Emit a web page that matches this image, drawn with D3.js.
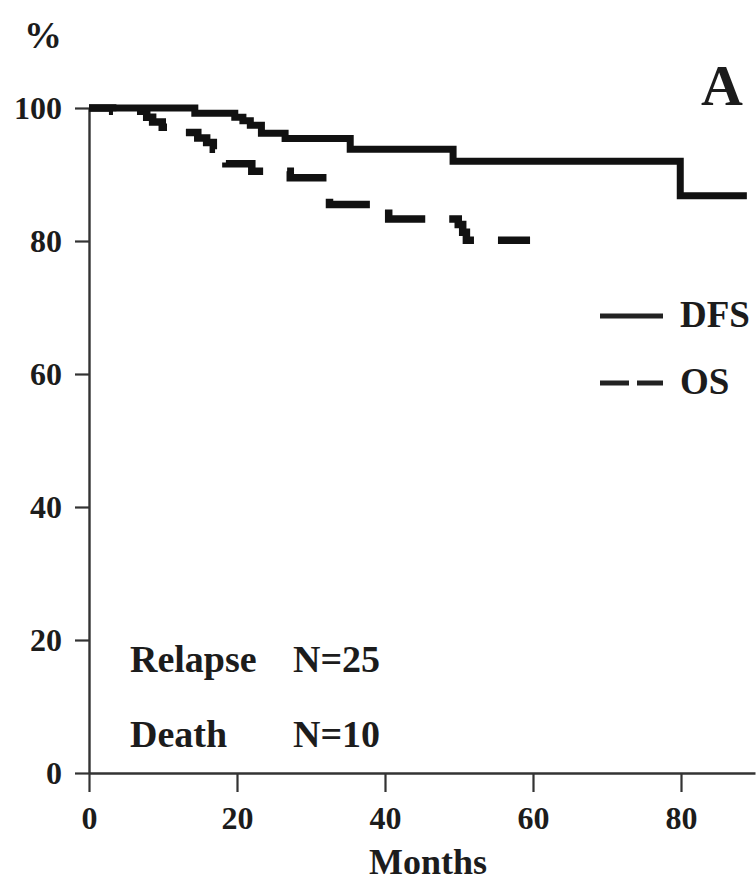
<!DOCTYPE html>
<html>
<head>
<meta charset="utf-8">
<script src="https://cdn.jsdelivr.net/npm/d3@7"></script>
<style>
    body { margin: 0; background: #fff; }
    svg text { font-family: "Liberation Serif", "Times New Roman", serif; font-weight: bold; fill: #1c1c1c; }
</style>
</head>
<body>
<svg id="chart" width="756" height="883"></svg>
<script>
// Kaplan-Meier steps (months, % surviving)
const dfsMonths = [0, 14.3, 19.7, 20.8, 21.8, 23.3, 26.5, 35.3, 49.2, 79.9, 88.9];
const dfsPct    = [100, 99.2, 98.6, 98.1, 97.4, 96.2, 95.4, 93.8, 92.0, 86.8, 86.8];

const osMonths = [0, 3.2, 7.8, 8.6, 9.9, 13.6, 14.7, 15.9, 16.8, 18.5, 22.0, 27.2, 32.5, 40.5, 49.9, 50.5, 51.0, 59.6];
const osPct    = [100, 99.5, 98.6, 97.9, 97.1, 96.3, 95.5, 94.8, 93.8, 91.6, 90.5, 89.5, 85.5, 83.3, 82.5, 81.3, 80.1, 80.1];

const xTicks = [0, 20, 40, 60, 80];
const yTicks = [0, 20, 40, 60, 80, 100];

const legendItems = ['DFS', 'OS'];
const countLabels = ['Relapse', 'Death'];
const countValues = ['N=25', 'N=10'];

const svg = d3.select('#chart');

const x = d3.scaleLinear().domain([0, 90]).range([89, 755]);
const y = d3.scaleLinear().domain([0, 100]).range([773, 108]);

// axes
const yAxis = svg.append('g')
    .attr('transform', 'translate(89,0)')
    .call(d3.axisLeft(y).tickValues(yTicks).tickSize(14).tickSizeOuter(0).tickPadding(13));
const xAxis = svg.append('g')
    .attr('transform', 'translate(0,773)')
    .call(d3.axisBottom(x).tickValues(xTicks).tickSize(19).tickSizeOuter(0).tickPadding(11));

for (const ax of [yAxis, xAxis]) {
    ax.select('.domain').attr('stroke', '#333').attr('stroke-width', 2.4);
    ax.selectAll('.tick line').attr('stroke', '#333').attr('stroke-width', 2.2);
    ax.selectAll('.tick text').attr('fill', '#1c1c1c').style('font-size', '32px')
        .style('font-family', '"Liberation Serif", serif').style('font-weight', 'bold');
}
xAxis.selectAll('.tick text').attr('dy', '0.8em');

// curves
const step = d3.line().curve(d3.curveStepAfter)
    .x(d => x(d[0]))
    .y(d => y(d[1]));

const dfs = d3.zip(dfsMonths, dfsPct);
const os = d3.zip(osMonths, osPct);

svg.append('path')
    .attr('d', step(os))
    .attr('fill', 'none')
    .attr('stroke', '#111')
    .attr('stroke-width', 7.5)
    .attr('stroke-dasharray', '46,24')
    .attr('stroke-dashoffset', 18.7);

svg.append('path')
    .attr('d', step(dfs))
    .attr('fill', 'none')
    .attr('stroke', '#111')
    .attr('stroke-width', 7);

// legend
const leg = svg.append('g');
legendItems.forEach((name, i) => {
    const ly = 316 + i * 67;
    leg.append('line')
        .attr('x1', 600).attr('x2', 663)
        .attr('y1', ly).attr('y2', ly)
        .attr('stroke', '#222').attr('stroke-width', 5)
        .attr('stroke-dasharray', i === 1 ? '29,8' : null);
    leg.append('text')
        .attr('x', 680).attr('y', ly + 11)
        .style('font-size', '37px')
        .text(name);
});

// event counts
countLabels.forEach((lab, i) => {
    const by = 672 + i * 75;
    svg.append('text').attr('x', 130).attr('y', by).style('font-size', '38px').text(lab);
    svg.append('text').attr('x', 293).attr('y', by).style('font-size', '38px').text(countValues[i]);
});

// titles
svg.append('text').attr('x', 24).attr('y', 48).style('font-size', '38px').text('%');
svg.append('text').attr('x', 701).attr('y', 105).style('font-size', '58px').text('A');
svg.append('text').attr('x', 428).attr('y', 874).attr('text-anchor', 'middle').style('font-size', '36px').text('Months');
</script>
</body>
</html>
